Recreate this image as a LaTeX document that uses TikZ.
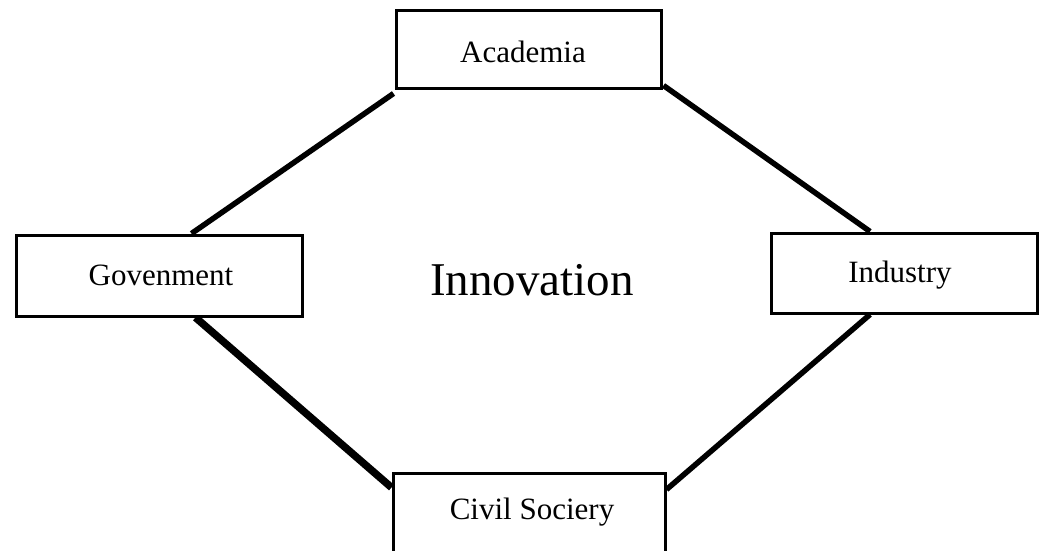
\documentclass[tikz,border=0pt]{standalone}
\usepackage{fontspec}
\setmainfont{Liberation Serif}
\begin{document}
\begin{tikzpicture}[x=1pt,y=-1pt,
  box/.style={draw=black,line width=3pt,fill=white,inner sep=0pt,font=\fontsize{31}{36}\selectfont},
  link/.style={line width=5.5pt,line cap=butt}]
\useasboundingbox (0,0) rectangle (1043,550);
\clip (0,0) rectangle (1043,550);

% actor boxes
\node[box,minimum width=265pt,minimum height=78pt] (acad) at (528.5,49) {};
\node[box,minimum width=286pt,minimum height=81pt] (gov) at (159,275.5) {};
\node[box,minimum width=266pt,minimum height=80pt] (ind) at (904,273) {};
\node[box,minimum width=272pt,minimum height=86pt] (civ) at (529,516) {};

% links between the actors
\draw[link] ([shift={(-1pt,-4pt)}]acad.south west) -- ([xshift=177pt]gov.north west);
\draw[link] ([shift={(1pt,4pt)}]acad.south east) -- ([xshift=-34pt]ind.north);
\draw[link] ([xshift=-34pt]ind.south) -- ([yshift=-18pt]civ.north east);
\draw[link,line width=7.5pt] ([xshift=181pt]gov.south west) -- ([yshift=-16pt]civ.north west);

% redraw boxes above the link ends
\node[box,minimum width=265pt,minimum height=78pt] at (acad) {};
\node[box,minimum width=286pt,minimum height=81pt] at (gov) {};
\node[box,minimum width=266pt,minimum height=80pt] at (ind) {};
\node[box,minimum width=272pt,minimum height=86pt] at (civ) {};

% labels
\node[font=\fontsize{31}{36}\selectfont] (acadt) at (523,52) {Academia};
\node[font=\fontsize{31}{36}\selectfont] (govt) at (161,275) {Govenment};
\node[font=\fontsize{31}{36}\selectfont] (indt) at (900,275) {Industry};
\node[font=\fontsize{31}{36}\selectfont] (civt) at (532,512) {Civil Sociery};
\node[font=\fontsize{47}{54}\selectfont] (innov) at (532,280) {Innovation};
\end{tikzpicture}
\end{document}
